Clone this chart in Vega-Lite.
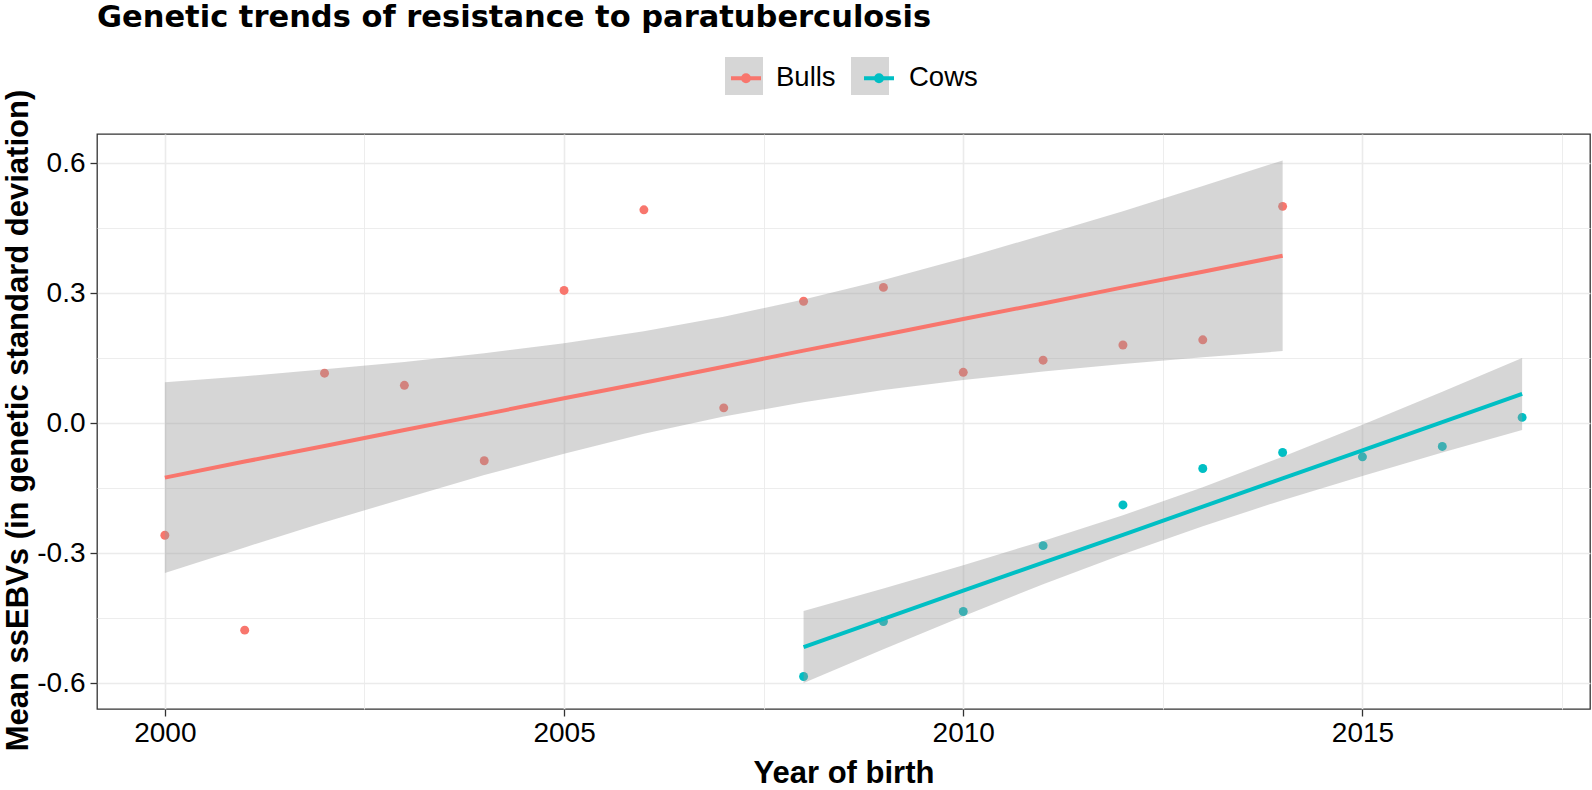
{
  "$schema": "https://vega.github.io/schema/vega-lite/v6.json",
  "width": 1493,
  "height": 575,
  "autosize": {"type": "none"},
  "padding": {"left": 97, "top": 134, "right": 2, "bottom": 81},
  "background": "white",
  "title": {
    "text": "Genetic trends of resistance to paratuberculosis",
    "anchor": "start",
    "frame": "group",
    "font": "DejaVu Sans",
    "fontWeight": "bold",
    "fontSize": 30.5,
    "color": "black",
    "baseline": "alphabetic",
    "offset": 10,
    "dy": 10
  },
  "config": {
    "view": {"stroke": "#333333", "strokeWidth": 1.3},
    "font": "Liberation Sans",
    "axis": {
      "labelFont": "Liberation Sans",
      "labelFontSize": 28,
      "labelColor": "black",
      "tickColor": "#333333",
      "tickSize": 7,
      "tickWidth": 1.3,
      "gridColor": "#ebebeb",
      "domain": false,
      "titleFont": "Liberation Sans",
      "titleFontSize": 31,
      "titleFontWeight": "bold",
      "titleColor": "black",
      "labelOverlap": false,
      "labelFlush": false
    }
  },
  "datasets": {
    "pts": [
      {"series": "Bulls", "year": 2000, "ebv": -0.259},
      {"series": "Bulls", "year": 2001, "ebv": -0.478},
      {"series": "Bulls", "year": 2002, "ebv": 0.115},
      {"series": "Bulls", "year": 2003, "ebv": 0.087},
      {"series": "Bulls", "year": 2004, "ebv": -0.087},
      {"series": "Bulls", "year": 2005, "ebv": 0.306},
      {"series": "Bulls", "year": 2006, "ebv": 0.492},
      {"series": "Bulls", "year": 2007, "ebv": 0.035},
      {"series": "Bulls", "year": 2008, "ebv": 0.281},
      {"series": "Bulls", "year": 2009, "ebv": 0.313},
      {"series": "Bulls", "year": 2010, "ebv": 0.117},
      {"series": "Bulls", "year": 2011, "ebv": 0.145},
      {"series": "Bulls", "year": 2012, "ebv": 0.180},
      {"series": "Bulls", "year": 2013, "ebv": 0.192},
      {"series": "Bulls", "year": 2014, "ebv": 0.500},
      {"series": "Cows", "year": 2008, "ebv": -0.585},
      {"series": "Cows", "year": 2009, "ebv": -0.458},
      {"series": "Cows", "year": 2010, "ebv": -0.435},
      {"series": "Cows", "year": 2011, "ebv": -0.283},
      {"series": "Cows", "year": 2012, "ebv": -0.189},
      {"series": "Cows", "year": 2013, "ebv": -0.105},
      {"series": "Cows", "year": 2014, "ebv": -0.068},
      {"series": "Cows", "year": 2015, "ebv": -0.078},
      {"series": "Cows", "year": 2016, "ebv": -0.054},
      {"series": "Cows", "year": 2017, "ebv": 0.013}
    ],
    "fit": [
      {"series": "Bulls", "key": "Bulls", "year": 2000, "fit": -0.126, "lo": -0.346, "hi": 0.094},
      {"series": "Bulls", "key": "Bulls", "year": 2001, "fit": -0.089, "lo": -0.287, "hi": 0.108},
      {"series": "Bulls", "key": "Bulls", "year": 2002, "fit": -0.053, "lo": -0.229, "hi": 0.124},
      {"series": "Bulls", "key": "Bulls", "year": 2003, "fit": -0.016, "lo": -0.174, "hi": 0.141},
      {"series": "Bulls", "key": "Bulls", "year": 2004, "fit": 0.020, "lo": -0.120, "hi": 0.161},
      {"series": "Bulls", "key": "Bulls", "year": 2005, "fit": 0.057, "lo": -0.071, "hi": 0.184},
      {"series": "Bulls", "key": "Bulls", "year": 2006, "fit": 0.093, "lo": -0.025, "hi": 0.212},
      {"series": "Bulls", "key": "Bulls", "year": 2007, "fit": 0.130, "lo": 0.015, "hi": 0.245},
      {"series": "Bulls", "key": "Bulls", "year": 2008, "fit": 0.167, "lo": 0.048, "hi": 0.285},
      {"series": "Bulls", "key": "Bulls", "year": 2009, "fit": 0.203, "lo": 0.076, "hi": 0.330},
      {"series": "Bulls", "key": "Bulls", "year": 2010, "fit": 0.240, "lo": 0.099, "hi": 0.380},
      {"series": "Bulls", "key": "Bulls", "year": 2011, "fit": 0.276, "lo": 0.119, "hi": 0.434},
      {"series": "Bulls", "key": "Bulls", "year": 2012, "fit": 0.313, "lo": 0.136, "hi": 0.489},
      {"series": "Bulls", "key": "Bulls", "year": 2013, "fit": 0.349, "lo": 0.152, "hi": 0.547},
      {"series": "Bulls", "key": "Bulls", "year": 2014, "fit": 0.386, "lo": 0.166, "hi": 0.606},
      {"series": "Cows", "key": "Cows", "year": 2008, "fit": -0.517, "lo": -0.600, "hi": -0.434},
      {"series": "Cows", "key": "Cows", "year": 2009, "fit": -0.452, "lo": -0.522, "hi": -0.382},
      {"series": "Cows", "key": "Cows", "year": 2010, "fit": -0.387, "lo": -0.446, "hi": -0.328},
      {"series": "Cows", "key": "Cows", "year": 2011, "fit": -0.322, "lo": -0.372, "hi": -0.272},
      {"series": "Cows", "key": "Cows", "year": 2012, "fit": -0.258, "lo": -0.303, "hi": -0.213},
      {"series": "Cows", "key": "Cows", "year": 2013, "fit": -0.193, "lo": -0.238, "hi": -0.148},
      {"series": "Cows", "key": "Cows", "year": 2014, "fit": -0.128, "lo": -0.178, "hi": -0.078},
      {"series": "Cows", "key": "Cows", "year": 2015, "fit": -0.063, "lo": -0.122, "hi": -0.004},
      {"series": "Cows", "key": "Cows", "year": 2016, "fit": 0.002, "lo": -0.068, "hi": 0.072},
      {"series": "Cows", "key": "Cows", "year": 2017, "fit": 0.067, "lo": -0.016, "hi": 0.150}
    ]
  },
  "layer": [
    {
      "data": {"name": "pts"},
      "mark": {"type": "point", "filled": true, "opacity": 1, "size": 80},
      "encoding": {
        "x": {
          "field": "year", "type": "quantitative", "title": "Year of birth",
          "scale": {"domain": [1999.15, 2017.85], "nice": false, "zero": false},
          "axis": {
            "values": [2000, 2002.5, 2005, 2007.5, 2010, 2012.5, 2015, 2017.5],
            "grid": true,
            "gridWidth": {"condition": {"test": "datum.value % 5 == 0", "value": 1.6}, "value": 0.9},
            "tickOpacity": {"condition": {"test": "datum.value % 5 == 0", "value": 1}, "value": 0},
            "labelExpr": "datum.value % 5 == 0 ? format(datum.value, 'd') : ''",
            "labelPadding": 3.5,
            "titleX": 746.5,
            "titleY": 73,
            "titleBaseline": "alphabetic",
            "titleAlign": "center"
          }
        },
        "y": {
          "field": "ebv", "type": "quantitative", "title": "Mean ssEBVs (in genetic standard deviation)",
          "scale": {"domain": [-0.66, 0.667], "nice": false, "zero": false},
          "axis": {
            "values": [-0.6, -0.45, -0.3, -0.15, 0, 0.15, 0.3, 0.45, 0.6],
            "grid": true,
            "gridWidth": {"condition": {"test": "round(datum.value * 20) % 2 == 0", "value": 1.6}, "value": 0.9},
            "tickOpacity": {"condition": {"test": "round(datum.value * 20) % 2 == 0", "value": 1}, "value": 0},
            "labelExpr": "round(datum.value * 20) % 2 == 0 ? replace(format(datum.value, '.1f'), '\u2212', '-') : ''",
            "labelPadding": 5,
            "titleX": -70,
            "titleY": 286,
            "titleAngle": 270,
            "titleBaseline": "alphabetic",
            "titleAlign": "center"
          }
        },
        "color": {
          "field": "series", "type": "nominal",
          "scale": {"domain": ["Bulls", "Cows"], "range": ["#F8766D", "#00BFC4"]},
          "legend": {
            "orient": "none", "legendX": 628, "legendY": -77, "direction": "horizontal",
            "title": null, "padding": 0,
            "symbolType": "M-0.79,0L0.79,0M-0.158,0A0.158,0.158,0,1,1,0.158,0A0.158,0.158,0,1,1,-0.158,0Z",
            "symbolSize": 1444, "symbolStrokeWidth": 4, "symbolOpacity": 1,
            "labelFont": "Liberation Sans", "labelFontSize": 27.5, "labelColor": "black",
            "labelOffset": 9, "columnPadding": 19, "zindex": 2,
            "encode": {"symbols": {"update": {"fill": {"scale": "color", "field": "value"}, "stroke": {"scale": "color", "field": "value"}}}}
          }
        }
      }
    },
    {
      "data": {"name": "fit"},
      "mark": {"type": "area", "fillOpacity": 0.4},
      "encoding": {
        "x": {"field": "year", "type": "quantitative", "title": "Year of birth", "scale": {"domain": [1999.15, 2017.85], "nice": false, "zero": false}},
        "y": {"field": "lo", "type": "quantitative", "title": "Mean ssEBVs (in genetic standard deviation)", "scale": {"domain": [-0.66, 0.667], "nice": false, "zero": false}},
        "y2": {"field": "hi"},
        "fill": {
          "field": "key", "type": "nominal",
          "scale": {"range": ["#999999", "#999999"]},
          "legend": {
            "orient": "none", "legendX": 628, "legendY": -77, "direction": "horizontal",
            "title": null, "padding": 0,
            "symbolType": "square", "symbolSize": 1444, "symbolStrokeWidth": 0, "symbolOpacity": 0.4,
            "labelExpr": "''", "labelFontSize": 1,
            "labelOffset": 0, "columnPadding": 88, "zindex": 1
          }
        }
      }
    },
    {
      "data": {"name": "fit"},
      "mark": {"type": "line", "strokeWidth": 4},
      "encoding": {
        "x": {"field": "year", "type": "quantitative", "title": "Year of birth", "scale": {"domain": [1999.15, 2017.85], "nice": false, "zero": false}},
        "y": {"field": "fit", "type": "quantitative", "title": "Mean ssEBVs (in genetic standard deviation)", "scale": {"domain": [-0.66, 0.667], "nice": false, "zero": false}},
        "color": {"field": "series", "type": "nominal", "scale": {"domain": ["Bulls", "Cows"], "range": ["#F8766D", "#00BFC4"]}}
      }
    }
  ]
}
